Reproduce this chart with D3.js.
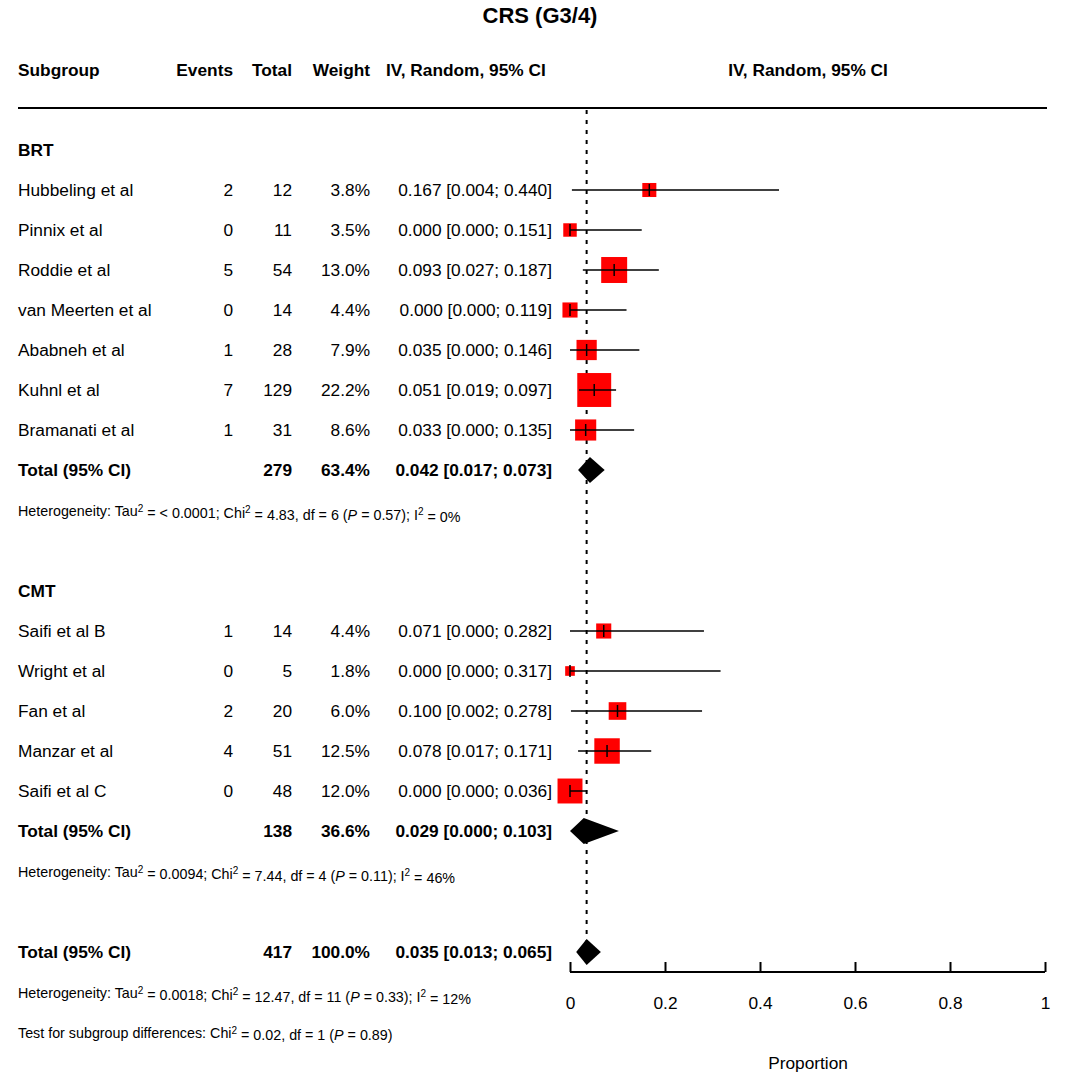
<!DOCTYPE html>
<html><head><meta charset="utf-8">
<script src="https://cdn.jsdelivr.net/npm/d3@7"></script>
<style>
body{margin:0;background:#fff;font-family:"Liberation Sans",Arial,sans-serif}
text{fill:#000}
.b{font-weight:bold}
</style></head><body>
<svg id="chart" width="1080" height="1077"></svg>
<script>
// DATA
const brtStudies = ["Hubbeling et al","Pinnix et al","Roddie et al","van Meerten et al","Ababneh et al","Kuhnl et al","Bramanati et al"];
const brtEvents = [2,0,5,0,1,7,1];
const brtTotal = [12,11,54,14,28,129,31];
const brtWeight = [3.8,3.5,13.0,4.4,7.9,22.2,8.6];
const brtEst = [0.167,0.000,0.093,0.000,0.035,0.051,0.033];
const brtLo = [0.004,0.000,0.027,0.000,0.000,0.019,0.000];
const brtHi = [0.440,0.151,0.187,0.119,0.146,0.097,0.135];

const cmtStudies = ["Saifi et al B","Wright et al","Fan et al","Manzar et al","Saifi et al C"];
const cmtEvents = [1,0,2,4,0];
const cmtTotal = [14,5,20,51,48];
const cmtWeight = [4.4,1.8,6.0,12.5,12.0];
const cmtEst = [0.071,0.000,0.100,0.078,0.000];
const cmtLo = [0.000,0.000,0.002,0.017,0.000];
const cmtHi = [0.282,0.317,0.278,0.171,0.036];

// pooled: [total, weight, est, lo, hi]
const brtPooled = [279,"63.4%",0.042,0.017,0.073];
const cmtPooled = [138,"36.6%",0.029,0.000,0.103];
const allPooled = [417,"100.0%",0.035,0.013,0.065];
const xTicks = [0,0.2,0.4,0.6,0.8,1];

const svg = d3.select("#chart");
const x = d3.scaleLinear().domain([0,1]).range([570,1045]);
const f3 = d3.format(".3f");
const ciText = (e,l,h)=>`${f3(e)} [${f3(l)}; ${f3(h)}]`;
const side = w => 7.2*Math.sqrt(w);
const FS = 17.3;

function txt(xp,y,s,anchor,bold,size){
  return svg.append("text").attr("x",xp).attr("y",y).attr("dy","0.35em")
    .attr("text-anchor",anchor||"start").attr("font-size",size||FS)
    .attr("class",bold?"b":null).text(s);
}

// title & header
txt(540,15,"CRS (G3/4)","middle",true,22);
txt(18,70,"Subgroup","start",true);
txt(233,70,"Events","end",true);
txt(292,70,"Total","end",true);
txt(370,70,"Weight","end",true);
txt(386,70,"IV, Random, 95% CI","start",true);
txt(808,70,"IV, Random, 95% CI","middle",true);
svg.append("line").attr("x1",18).attr("x2",1047).attr("y1",108).attr("y2",108).attr("stroke","#000").attr("stroke-width",2);

// reference dashed line
svg.append("line").attr("x1",x(allPooled[2])).attr("x2",x(allPooled[2]))
  .attr("y1",110).attr("y2",960).attr("stroke","#000").attr("stroke-width",2).attr("stroke-dasharray","4,6");

function studies(names,ev,tot,wt,est,lo,hi,y0){
  names.forEach((n,i)=>{
    const y=y0+i*40;
    txt(18,y,n); txt(233,y,ev[i],"end"); txt(292,y,tot[i],"end");
    txt(370,y,wt[i].toFixed(1)+"%","end"); txt(552,y,ciText(est[i],lo[i],hi[i]),"end");
    const s=side(wt[i]);
    svg.append("rect").attr("x",x(est[i])-s/2).attr("y",y-s/2).attr("width",s).attr("height",s).attr("fill","#f00");
    svg.append("line").attr("x1",x(lo[i])).attr("x2",x(hi[i])).attr("y1",y).attr("y2",y).attr("stroke","#000").attr("stroke-width",1.5);
    svg.append("line").attr("x1",x(est[i])).attr("x2",x(est[i])).attr("y1",y-6).attr("y2",y+6).attr("stroke","#000").attr("stroke-width",1.5);
  });
}
function pooled(p,y){
  txt(18,y,"Total (95% CI)","start",true); txt(292,y,p[0],"end",true);
  txt(370,y,p[1],"end",true); txt(552,y,ciText(p[2],p[3],p[4]),"end",true);
  svg.append("path").attr("d",`M${x(p[3])},${y}L${x(p[2])},${y-13}L${x(p[4])},${y}L${x(p[2])},${y+13}Z`).attr("fill","#000");
}
function het(y,parts){
  const t=svg.append("text").attr("x",18).attr("y",y).attr("dy","0.35em").attr("font-size",14.3);
  parts.forEach(p=>{
    const s=t.append("tspan").text(p[0]);
    if(p[1]==="sup") s.attr("dy","-0.45em").attr("font-size",10);
    if(p[1]==="down") s.attr("dy","0.45em");
    if(p[1]==="it") s.attr("font-style","italic");
  });
}

txt(18,150,"BRT","start",true);
studies(brtStudies,brtEvents,brtTotal,brtWeight,brtEst,brtLo,brtHi,190);
pooled(brtPooled,470);
het(511,[["Heterogeneity: Tau"],["2","sup"],[" = < 0.0001; Chi","down"],["2","sup"],[" = 4.83, df = 6 (","down"],["P","it"],[" = 0.57); I"],["2","sup"],[" = 0%","down"]]);

txt(18,591,"CMT","start",true);
studies(cmtStudies,cmtEvents,cmtTotal,cmtWeight,cmtEst,cmtLo,cmtHi,631);
pooled(cmtPooled,831);
het(872,[["Heterogeneity: Tau"],["2","sup"],[" = 0.0094; Chi","down"],["2","sup"],[" = 7.44, df = 4 (","down"],["P","it"],[" = 0.11); I"],["2","sup"],[" = 46%","down"]]);

pooled(allPooled,952);
het(993,[["Heterogeneity: Tau"],["2","sup"],[" = 0.0018; Chi","down"],["2","sup"],[" = 12.47, df = 11 (","down"],["P","it"],[" = 0.33); I"],["2","sup"],[" = 12%","down"]]);
het(1033,[["Test for subgroup differences: Chi"],["2","sup"],[" = 0.02, df = 1 (","down"],["P","it"],[" = 0.89)"]]);

// axis
const ax = svg.append("g").attr("transform","translate(0,972)")
  .call(d3.axisBottom(x).tickValues(xTicks).tickFormat(d3.format("")).tickSize(-10).tickPadding(31));
ax.select(".domain").attr("stroke-width",2).attr("d","M570,0H1045");
ax.selectAll(".tick line").attr("stroke-width",2).attr("y1",0).attr("y2",-10);
ax.selectAll(".tick text").attr("font-size",FS).attr("font-family","Liberation Sans, Arial, sans-serif").attr("dy","0.35em");
txt(808,1063,"Proportion","middle");
</script></body></html>
